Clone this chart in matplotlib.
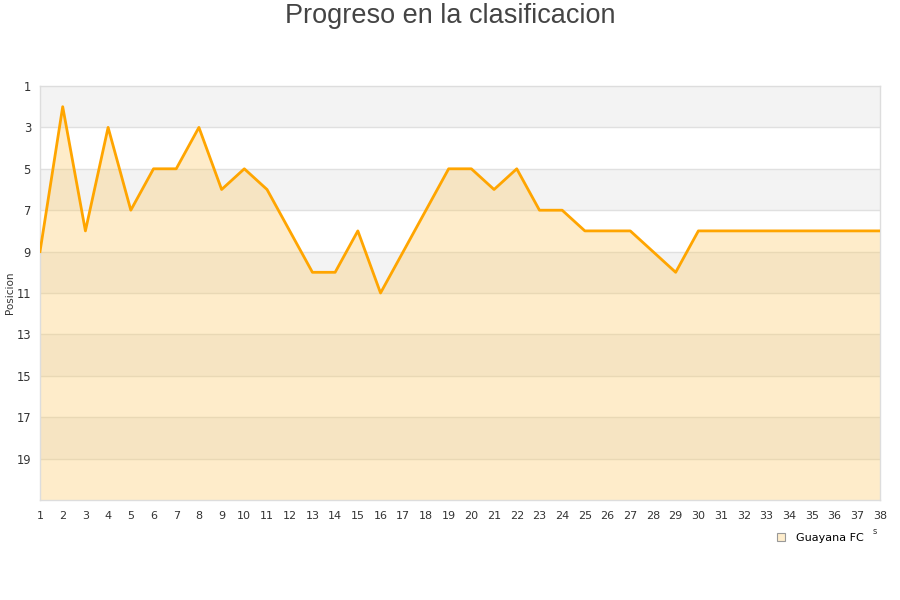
import matplotlib
matplotlib.use("Agg")
import matplotlib.pyplot as plt
from matplotlib.lines import Line2D

rounds = list(range(1, 39))
positions = [9, 2, 8, 3, 7, 5, 5, 3, 6, 5, 6, 8, 10, 10, 8, 11, 9, 7, 5, 5,
             6, 5, 7, 7, 8, 8, 8, 9, 10, 8, 8, 8, 8, 8, 8, 8, 8, 8]
y_ticks = [1, 3, 5, 7, 9, 11, 13, 15, 17, 19]
team = "Guayana FC"
title = "Progreso en la clasificacion"
y_label = "Posicion"

fig = plt.figure(figsize=(9, 6), dpi=100)
ax = fig.add_axes([40/900, 100/600, 840/900, 414/600])

# alternating bands
for lo in [1, 5, 9, 13, 17]:
    ax.axhspan(lo, lo + 2, color="#f3f3f3", zorder=0, lw=0)
for yv in list(range(3, 21, 2)):
    ax.axhline(yv, color="#e0e0e0", lw=1, zorder=1)

ax.fill_between(rounds, positions, 21, color=(253/255, 200/255, 95/255), alpha=0.33, lw=0, zorder=2)
ax.plot(rounds, positions, color="#ffa500", lw=2.0, zorder=3)

ax.set_xlim(1, 38)
ax.set_ylim(21, 1)
ax.set_xticks(rounds)
ax.set_xticklabels([str(r) for r in rounds])
ax.set_yticks(y_ticks)
ax.tick_params(axis="both", length=0, labelsize=8, colors="#333333")
ax.tick_params(axis="x", pad=8)
ax.tick_params(axis="y", pad=6.5)
for lbl in ax.get_yticklabels():
    lbl.set_fontsize(8.3)
for s in ax.spines.values():
    s.set_color("#dddddd")
    s.set_linewidth(1)

ax.set_ylabel(y_label, fontsize=7.5, color="#333333")
ax.yaxis.set_label_coords(-25/840, 0.5)

fig.text(0.5, 1 - 16/600, title, ha="center", va="center", fontsize=19.5,
         family="Liberation Sans", color="#444444")

handle = Line2D([], [], marker="s", ls="none", markersize=6,
                markerfacecolor="#feedcc", markeredgecolor="#999999", markeredgewidth=0.8)
fig.legend([handle], [team], loc="center", bbox_to_anchor=(817/900, 1 - 538/600),
           frameon=False, fontsize=8, handletextpad=0.4, borderpad=0)
fig.text(875/900, 1 - 531/600, "s", fontsize=6, color="#333333", ha="center", va="center")

fig.savefig("out.png", dpi=100)
